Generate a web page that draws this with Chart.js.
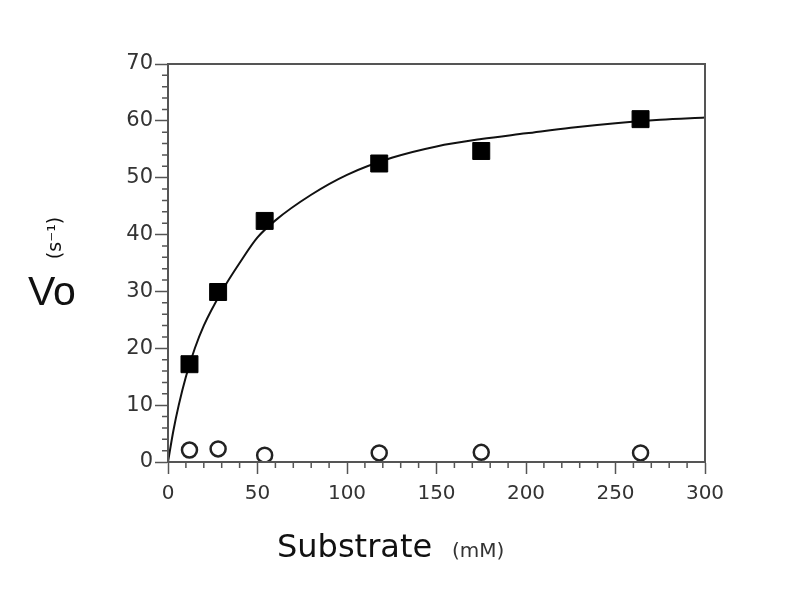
<!DOCTYPE html>
<html>
<head>
<meta charset="utf-8">
<script src="https://cdn.jsdelivr.net/npm/chart.js@4.4.0/dist/chart.umd.min.js"></script>
<style>
  html, body { margin: 0; padding: 0; background: #fff; }
  #wrap { width: 798px; height: 600px; }
</style>
</head>
<body>
<div id="wrap"><canvas id="kineticsChart" width="798" height="600"></canvas></div>
<script>
// Substrate concentrations (mM) and rates
const substrate = [12, 28, 54, 118, 175, 264];
const rateFilled = [17.2, 29.9, 42.4, 52.5, 54.7, 60.3];
const rateOpen = [2.1, 2.3, 1.2, 1.6, 1.7, 1.6];

// Fitted curve
const fitX = [0, 3, 6, 10, 15, 20, 30, 40, 50, 60, 80, 100, 125, 150, 175, 200, 225, 250, 275, 300];
const fitY = [0, 5.5, 10, 15, 20, 24, 30, 35, 39.5, 42.5, 47, 50.5, 53.5, 55.5, 56.8, 57.8, 58.8, 59.6, 60.2, 60.6];

const toPoints = (xs, ys) => xs.map((x, i) => ({ x: x, y: ys[i] }));

const axisColor = "#555";
const textColor = "#333";
const face = "'DejaVu Sans', Verdana, sans-serif";

// frame on top/right, minor ticks and the axis titles
const framePlugin = {
  id: "frame",
  afterDraw(chart) {
    const ctx = chart.ctx;
    const a = chart.chartArea;
    const xs = chart.scales.x;
    const ys = chart.scales.y;
    ctx.save();
    ctx.strokeStyle = axisColor;
    ctx.lineWidth = 2;
    ctx.strokeRect(a.left, a.top, a.right - a.left, a.bottom - a.top);

    ctx.lineWidth = 1.5;
    ctx.beginPath();
    for (let v = 0; v <= 300; v += 10) {
      if (v % 50 === 0) continue;
      const px = xs.getPixelForValue(v);
      ctx.moveTo(px, a.bottom);
      ctx.lineTo(px, a.bottom + 6);
    }
    for (let v = 0; v <= 70; v += 2) {
      if (v % 10 === 0) continue;
      const py = ys.getPixelForValue(v);
      ctx.moveTo(a.left, py);
      ctx.lineTo(a.left - 6, py);
    }
    ctx.stroke();

    ctx.fillStyle = "#111";
    ctx.textBaseline = "alphabetic";
    ctx.textAlign = "left";
    ctx.font = "41px 'Liberation Sans', Arial, sans-serif";
    ctx.fillText("Vo", 28, 305);

    ctx.save();
    ctx.translate(61, 238);
    ctx.rotate(-Math.PI / 2);
    ctx.font = "19px " + face;
    ctx.textAlign = "center";
    ctx.fillText("(s\u207B\u00B9)", 0, 0);
    ctx.restore();

    ctx.font = "32px " + face;
    ctx.fillText("Substrate", 277, 557);
    ctx.font = "20px " + face;
    ctx.fillStyle = textColor;
    ctx.fillText("(mM)", 452, 557);
    ctx.restore();
  }
};

new Chart(document.getElementById("kineticsChart").getContext("2d"), {
  type: "scatter",
  data: {
    datasets: [
      {
        type: "line",
        data: toPoints(fitX, fitY),
        borderColor: "#111",
        borderWidth: 2,
        pointRadius: 0,
        fill: false,
        cubicInterpolationMode: "monotone",
        order: 3,
      },
      {
        data: toPoints(substrate, rateFilled),
        pointStyle: "rect",
        pointRadius: 12,
        backgroundColor: "#000",
        borderColor: "#000",
        borderWidth: 1,
        order: 1,
      },
      {
        data: toPoints(substrate, rateOpen),
        pointStyle: "circle",
        pointRadius: 7.5,
        backgroundColor: "#fff",
        borderColor: "#222",
        borderWidth: 2.5,
        order: 2,
      },
    ],
  },
  options: {
    responsive: false,
    animation: false,
    layout: { padding: { left: 0, top: 64, right: 93, bottom: 0 } },
    plugins: { legend: { display: false }, tooltip: { enabled: false } },
    scales: {
      x: {
        type: "linear",
        min: 0,
        max: 300,
        afterFit(scale) { scale.height = 138; },
        border: { display: true, color: axisColor, width: 2 },
        grid: { drawOnChartArea: false, tickLength: 12, tickColor: axisColor, tickWidth: 1.5 },
        ticks: {
          stepSize: 50,
          color: textColor,
          padding: 8,
          font: { family: face, size: 20 },
        },
      },
      y: {
        min: 0,
        max: 70,
        afterFit(scale) { scale.width = 168; },
        border: { display: true, color: axisColor, width: 2 },
        grid: { drawOnChartArea: false, tickLength: 13, tickColor: axisColor, tickWidth: 1.5 },
        ticks: {
          stepSize: 10,
          color: textColor,
          padding: 2,
          font: { family: face, size: 21 },
        },
      },
    },
  },
  plugins: [framePlugin],
});
</script>
</body>
</html>
